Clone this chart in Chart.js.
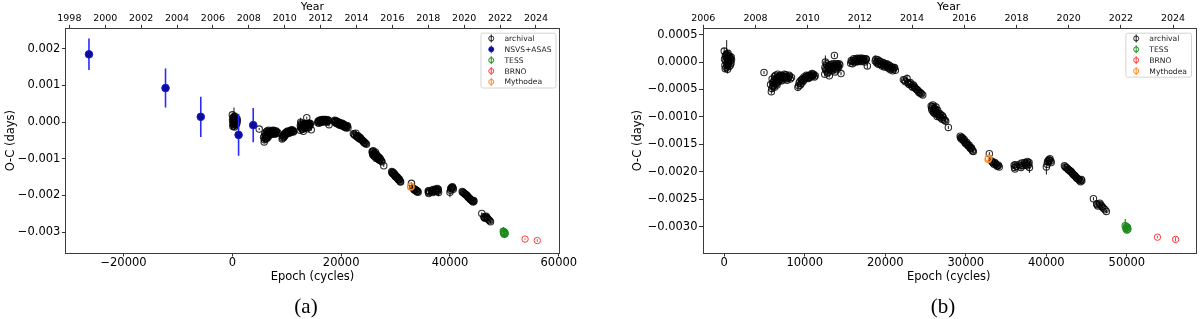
<!DOCTYPE html>
<html><head><meta charset="utf-8">
<script src="https://cdn.jsdelivr.net/npm/chart.js@4.4.1/dist/chart.umd.min.js"></script>
<style>
html,body{margin:0;padding:0;background:#fff;}
#wrap{position:relative;width:1200px;height:319px;overflow:hidden;background:#fff;}
.pane{position:absolute;top:0;width:600px;height:319px;}
.cap{position:absolute;top:306px;font-family:"Liberation Serif","Times New Roman",serif;font-size:21px;color:#000;transform:translate(-50%,-50%);white-space:nowrap;}
</style></head><body>
<div id="wrap">
  <div class="pane" style="left:0"><canvas id="ca" width="600" height="319"></canvas></div>
  <div class="pane" style="left:600px"><canvas id="cb" width="600" height="319"></canvas></div>
  <div class="cap" style="left:306px">(a)</div>
  <div class="cap" style="left:943px">(b)</div>
</div>
<script>
// ---------- tick labels ----------
const yearTicksA = [1998,2000,2002,2004,2006,2008,2010,2012,2014,2016,2018,2020,2022,2024];
const yearTicksB = [2006,2008,2010,2012,2014,2016,2018,2020,2022,2024];
const epochTicksA = [-20000,0,20000,40000,60000];
const epochTicksB = [0,10000,20000,30000,40000,50000];
const ocTicksA = [-0.003,-0.002,-0.001,0,0.001,0.002];
const ocTicksB = [-0.003,-0.0025,-0.002,-0.0015,-0.001,-0.0005,0,0.0005];

// ---------- series ----------
const seriesNames = ['archival','NSVS+ASAS','TESS','BRNO','Mythodea'];

// archival minima (first pass, one line per observing season)
const archEpoch1 = [
  0,40,90,140,190,240,300,350,400,450,500,560,610,660,720,780,840,900,
  4940,
  5750,5850,5950,6050,6150,6250,6350,6450,6550,6650,6750,6850,6950,7050,7150,7300,7450,7600,7750,7900,8050,8200,8350,
  9150,9300,9450,9600,9750,9900,10050,10200,10350,10500,10650,10800,10950,11100,11300,
  12500,12560,12650,12750,12850,12950,13050,13150,13250,13350,13450,13550,13680,13750,13850,13950,14050,14150,14250,14500,
  15700,15850,16000,16150,16300,16450,16600,16750,16900,17050,17200,17350,17500,17650,17770,
  18750,18900,19050,19200,19350,19500,19650,19800,19950,20100,20250,20400,20550,20700,20850,21000,21150,
  22250,22500,22700,22900,23100,23300,23500,23700,23900,24100,24300,24500,24650,
  25700,25800,25900,26000,26100,26200,26300,26400,26500,26650,26800,26950,27100,27300,27500,27830,
  29300,29450,29600,29750,29900,30050,30200,30350,30500,30650,30800,30930,
  32920,
  33200,33400,33600,33800,33950,34150,
  36000,36100,36250,36700,36850,37000,37300,37450,37650,37800,37900,
  40000,40150,40300,40450,40600,
  42250,42450,42650,42850,43050,43250,43450,43650,43850,44050,44250,44400,
  45850,46250,46400,46650,46900,47150,47450
];
const archOC1 = [
  0.00020,0.00005,-0.00006,0.00011,0.00002,-0.00010,0.00015,-0.00001,0.00007,-0.00004,0.00012,0.00003,-0.00008,0.00008,0.00001,0.00006,-0.00002,0.00004,
  -0.00019,
  -0.00041,-0.00054,-0.00031,-0.00045,-0.00036,-0.00026,-0.00040,-0.00029,-0.00034,-0.00022,-0.00036,-0.00027,-0.00031,-0.00024,-0.00034,-0.00028,-0.00022,-0.00031,-0.00026,-0.00030,-0.00024,-0.00031,-0.00028,
  -0.00046,-0.00038,-0.00042,-0.00032,-0.00036,-0.00027,-0.00031,-0.00024,-0.00029,-0.00025,-0.00028,-0.00023,-0.00026,-0.00022,-0.00025,
  -0.00010,0.00000,-0.00016,-0.00006,-0.00020,-0.00011,-0.00025,-0.00005,-0.00015,-0.00008,-0.00012,-0.00003,0.00012,-0.00018,-0.00006,-0.00010,-0.00004,-0.00008,-0.00003,-0.00021,
  -0.00002,0.00001,0.00003,0.00000,0.00005,0.00002,0.00006,0.00003,0.00007,0.00004,0.00002,0.00006,0.00003,0.00005,-0.00007,
  0.00002,-0.00001,0.00004,-0.00003,0.00001,-0.00005,-0.00002,-0.00006,-0.00004,-0.00008,-0.00005,-0.00010,-0.00007,-0.00012,-0.00009,-0.00013,-0.00010,
  -0.00032,-0.00036,-0.00030,-0.00040,-0.00037,-0.00044,-0.00042,-0.00047,-0.00050,-0.00053,-0.00055,-0.00058,-0.00060,
  -0.00080,-0.00088,-0.00078,-0.00092,-0.00084,-0.00090,-0.00082,-0.00095,-0.00088,-0.00098,-0.00094,-0.00102,-0.00098,-0.00105,-0.00108,-0.00119,
  -0.00135,-0.00140,-0.00139,-0.00144,-0.00146,-0.00149,-0.00150,-0.00153,-0.00155,-0.00158,-0.00160,-0.00163,
  -0.00167,
  -0.00180,-0.00184,-0.00183,-0.00187,-0.00189,-0.00191,
  -0.00188,-0.00195,-0.00190,-0.00186,-0.00192,-0.00189,-0.00183,-0.00188,-0.00181,-0.00186,-0.00192,
  -0.00191,-0.00181,-0.00178,-0.00176,-0.00183,
  -0.00189,-0.00192,-0.00195,-0.00197,-0.00199,-0.00203,-0.00206,-0.00209,-0.00212,-0.00214,-0.00218,-0.00216,
  -0.00249,-0.00258,-0.00262,-0.00257,-0.00263,-0.00267,-0.00272
];
const archErr1 = [
  0.00006,0.00008,0.00006,0.00005,0.00010,0.00006,0.00025,0.00007,0.00005,0.00008,0.00005,0.00006,0.00007,0.00005,0.00006,0.00005,0.00004,0.00004,
  0.00003,
  0.00003,0.00004,0.00003,0.00010,0.00003,0.00003,0.00004,0.00003,0.00003,0.00003,0.00004,0.00003,0.00003,0.00003,0.00003,0.00003,0.00003,0.00003,0.00003,0.00003,0.00003,0.00003,0.00003,
  0.00007,0.00003,0.00003,0.00003,0.00003,0.00003,0.00003,0.00006,0.00003,0.00003,0.00003,0.00003,0.00003,0.00003,0.00003,
  0.00003,0.00012,0.00003,0.00003,0.00004,0.00003,0.00003,0.00003,0.00003,0.00003,0.00003,0.00003,0.00003,0.00003,0.00003,0.00003,0.00003,0.00003,0.00003,0.00003,
  0.00003,0.00003,0.00003,0.00003,0.00003,0.00003,0.00003,0.00003,0.00003,0.00003,0.00003,0.00003,0.00003,0.00003,0.00005,
  0.00010,0.00003,0.00003,0.00003,0.00003,0.00003,0.00003,0.00003,0.00003,0.00003,0.00003,0.00003,0.00003,0.00003,0.00003,0.00003,0.00003,
  0.00003,0.00003,0.00007,0.00003,0.00003,0.00003,0.00003,0.00003,0.00003,0.00003,0.00003,0.00003,0.00003,
  0.00003,0.00003,0.00003,0.00003,0.00003,0.00003,0.00008,0.00003,0.00003,0.00003,0.00003,0.00003,0.00003,0.00003,0.00003,0.00003,
  0.00003,0.00003,0.00003,0.00003,0.00003,0.00003,0.00003,0.00003,0.00003,0.00003,0.00003,0.00003,
  0.00003,
  0.00003,0.00003,0.00003,0.00003,0.00003,0.00003,
  0.00005,0.00003,0.00003,0.00003,0.00003,0.00003,0.00003,0.00003,0.00003,0.00003,0.00010,
  0.00014,0.00003,0.00003,0.00003,0.00003,
  0.00003,0.00003,0.00003,0.00003,0.00003,0.00003,0.00003,0.00003,0.00003,0.00003,0.00003,0.00003,
  0.00003,0.00003,0.00003,0.00003,0.00003,0.00003,0.00003
];
// archival minima (second pass, filling the dense parts of each season)
const archEpoch2 = [
  120,260,330,470,530,690,750,860,420,200,
  5900,6000,6100,6200,6300,6400,6500,6600,6700,6800,6900,7000,7100,7200,7350,7500,7650,7800,7950,8100,6250,6550,
  9250,9400,9550,9700,9850,10000,10150,10300,10450,10600,10750,10900,11050,11200,
  12600,12700,12800,12900,13000,13100,13200,13300,13400,13500,13600,13800,13900,14000,14100,14200,14350,12480,
  15780,15930,16080,16230,16380,16530,16680,16830,16980,17130,17280,17430,17580,
  18820,18980,19130,19280,19430,19580,19730,19880,20030,20180,20330,20480,20630,20780,20930,21080,21250,
  22400,22800,23000,23200,23400,23600,23800,24000,24200,24400,
  25750,25850,25950,26050,26150,26250,26350,26450,26600,26750,26900,27050,27200,27400,
  29350,29500,29650,29800,29950,30100,30250,30400,30550,30700,30850,
  33300,33500,33700,33900,34050,
  36050,36150,36800,36950,37350,37550,37700,37850,
  40100,40250,40400,40550,
  42350,42550,42750,42950,43150,43350,43550,43750,43950,44150,44350,
  46300,46550,46800,47000,47300
];
const archOC2 = [
  -0.00012,0.00008,-0.00005,0.00016,-0.00002,0.00010,-0.00006,0.00009,-0.00013,0.00013,
  -0.00048,-0.00038,-0.00043,-0.00033,-0.00037,-0.00024,-0.00039,-0.00030,-0.00028,-0.00033,-0.00025,-0.00030,-0.00026,-0.00032,-0.00025,-0.00027,-0.00023,-0.00033,-0.00028,-0.00026,-0.00046,-0.00042,
  -0.00043,-0.00035,-0.00039,-0.00031,-0.00033,-0.00029,-0.00027,-0.00026,-0.00030,-0.00024,-0.00026,-0.00021,-0.00024,-0.00027,
  -0.00013,-0.00003,-0.00012,-0.00018,-0.00008,-0.00014,-0.00009,-0.00004,-0.00016,-0.00010,-0.00006,-0.00012,-0.00003,-0.00014,-0.00006,-0.00010,-0.00005,-0.00022,
  0.00003,-0.00003,0.00006,0.00003,0.00000,0.00007,0.00001,0.00005,0.00001,0.00007,0.00004,0.00000,0.00006,
  0.00005,0.00001,-0.00004,0.00002,-0.00003,-0.00007,-0.00001,-0.00009,-0.00006,-0.00003,-0.00011,-0.00006,-0.00014,-0.00010,-0.00016,-0.00011,-0.00015,
  -0.00033,-0.00037,-0.00041,-0.00040,-0.00046,-0.00045,-0.00049,-0.00051,-0.00056,-0.00057,
  -0.00084,-0.00081,-0.00090,-0.00087,-0.00094,-0.00086,-0.00091,-0.00099,-0.00093,-0.00100,-0.00097,-0.00104,-0.00101,-0.00106,
  -0.00138,-0.00137,-0.00142,-0.00141,-0.00148,-0.00146,-0.00152,-0.00151,-0.00157,-0.00156,-0.00162,
  -0.00182,-0.00186,-0.00185,-0.00190,-0.00188,
  -0.00192,-0.00187,-0.00189,-0.00184,-0.00186,-0.00184,-0.00189,-0.00183,
  -0.00186,-0.00182,-0.00179,-0.00180,
  -0.00191,-0.00193,-0.00196,-0.00199,-0.00201,-0.00205,-0.00207,-0.00211,-0.00213,-0.00216,-0.00214,
  -0.00260,-0.00259,-0.00261,-0.00265,-0.00269
];
const archErr2 = [
  0.00006,0.00005,0.00007,0.00005,0.00006,0.00005,0.00006,0.00005,0.00008,0.00006,
  0.00003,0.00003,0.00003,0.00003,0.00003,0.00003,0.00003,0.00003,0.00003,0.00003,0.00003,0.00003,0.00003,0.00003,0.00003,0.00003,0.00003,0.00003,0.00003,0.00003,0.00005,0.00004,
  0.00003,0.00003,0.00003,0.00003,0.00003,0.00003,0.00003,0.00003,0.00003,0.00003,0.00003,0.00003,0.00003,0.00003,
  0.00003,0.00003,0.00003,0.00003,0.00003,0.00003,0.00003,0.00003,0.00003,0.00003,0.00003,0.00003,0.00003,0.00003,0.00003,0.00003,0.00003,0.00004,
  0.00003,0.00003,0.00003,0.00003,0.00003,0.00003,0.00003,0.00003,0.00003,0.00003,0.00003,0.00003,0.00003,
  0.00003,0.00003,0.00003,0.00003,0.00003,0.00003,0.00003,0.00003,0.00003,0.00003,0.00003,0.00003,0.00003,0.00003,0.00003,0.00003,0.00003,
  0.00003,0.00003,0.00003,0.00003,0.00003,0.00003,0.00003,0.00003,0.00003,0.00003,
  0.00003,0.00003,0.00003,0.00003,0.00003,0.00003,0.00003,0.00003,0.00003,0.00003,0.00003,0.00003,0.00003,0.00003,
  0.00003,0.00003,0.00003,0.00003,0.00003,0.00003,0.00003,0.00003,0.00003,0.00003,0.00003,
  0.00003,0.00003,0.00003,0.00003,0.00003,
  0.00003,0.00003,0.00003,0.00003,0.00003,0.00003,0.00003,0.00003,
  0.00003,0.00003,0.00003,0.00003,
  0.00003,0.00003,0.00003,0.00003,0.00003,0.00003,0.00003,0.00003,0.00003,0.00003,0.00003,
  0.00003,0.00003,0.00003,0.00003,0.00003
];
const archEpoch = archEpoch1.concat(archEpoch2);
const archOC = archOC1.concat(archOC2);
const archErr = archErr1.concat(archErr2);

const nsvsEpoch = [-26350,-12280,-5800,1150,3840];
const nsvsOC    = [0.00185,0.00093,0.000145,-0.000348,-0.000082];
const nsvsErr   = [0.00043,0.00053,0.00055,0.00057,0.00047];

const tessEpoch = [49800,49880,49950,50000,50060,50120];
const tessOC    = [-0.00298,-0.00303,-0.00300,-0.00306,-0.00301,-0.00304];
const tessErr   = [0.00012,0.00005,0.00004,0.00006,0.00004,0.00005];

const brnoEpoch = [53800,56050];
const brnoOC    = [-0.00319,-0.00323];
const brnoErr   = [0.00002,0.00004];

const mythEpoch = [32780,32830];
const mythOC    = [-0.00177,-0.00175];
const mythErr   = [0.00003,0.00003];

// ---------- helpers ----------
const FONT = 'DejaVu Sans';
const pts = (xs, ys) => xs.map((x,i)=>({x:x, y:ys[i]}));
const minus = s => s.replace('-', '\u2212');
const fmtInt = v => minus(String(Math.round(v)));
const fmtDec = d => v => minus(Number(v).toFixed(d));

function series(name, xs, ys, es, style){
  return Object.assign({
    label:name, data:pts(xs,ys), errs:es,
    showLine:false, pointStyle:'circle',
    pointHoverRadius:0
  }, style);
}
const styles = {
  'archival':  {pointRadius:3.2, borderWidth:1.1, borderColor:'rgba(0,0,0,0.82)', backgroundColor:'rgba(255,255,255,0)', errColor:'rgba(0,0,0,0.9)', errWidth:1, order:5, filled:false},
  'NSVS+ASAS': {pointRadius:3.8, borderWidth:1, borderColor:'#1a1ad0', backgroundColor:'#0c0c9c', errColor:'#2a2aff', errWidth:1.6, order:4, filled:true},
  'TESS':      {pointRadius:3.2, borderWidth:1.1, borderColor:'#1b8a1b', backgroundColor:'rgba(255,255,255,0)', errColor:'#1b8a1b', errWidth:1.2, order:3, filled:false},
  'BRNO':      {pointRadius:3.2, borderWidth:1, borderColor:'#ff3a3a', backgroundColor:'rgba(255,255,255,0)', errColor:'#ff3a3a', errWidth:1, order:2, filled:false},
  'Mythodea':  {pointRadius:3.2, borderWidth:1.1, borderColor:'#ff8a1c', backgroundColor:'rgba(255,255,255,0)', errColor:'#ff8a1c', errWidth:1, order:1, filled:false}
};

const errorBarPlugin = {
  id:'errbars',
  beforeDatasetDraw(chart, args){
    const ds = chart.data.datasets[args.index];
    if(!ds.errs) return;
    const xs = chart.scales.x, ys = chart.scales.y, ctx = chart.ctx, ca = chart.chartArea;
    ctx.save();
    ctx.beginPath(); ctx.rect(ca.left, ca.top, ca.right-ca.left, ca.bottom-ca.top); ctx.clip();
    ctx.strokeStyle = ds.errColor; ctx.lineWidth = ds.errWidth;
    ds.data.forEach((p,i)=>{
      const e = ds.errs[i] || 0;
      const px = xs.getPixelForValue(p.x);
      ctx.beginPath();
      ctx.moveTo(px, ys.getPixelForValue(p.y - e));
      ctx.lineTo(px, ys.getPixelForValue(p.y + e));
      ctx.stroke();
    });
    ctx.restore();
  }
};

const framePlugin = {
  id:'frame',
  afterDatasetsDraw(chart){
    const ca = chart.chartArea, ctx = chart.ctx;
    ctx.save();
    ctx.strokeStyle = '#3c3c3c'; ctx.lineWidth = 1;
    ctx.strokeRect(Math.round(ca.left)+0.5, Math.round(ca.top)+0.5, Math.round(ca.right-ca.left), Math.round(ca.bottom-ca.top));
    ctx.restore();
  }
};

const boxLegendPlugin = {
  id:'boxLegend',
  afterDraw(chart){
    const ctx = chart.ctx, ca = chart.chartArea;
    const items = chart.data.datasets;
    ctx.save();
    ctx.font = '7.6px "' + FONT + '"';
    let tw = 0;
    items.forEach(d => { tw = Math.max(tw, ctx.measureText(d.label).width); });
    const rowH = 10.85;
    const w = 24 + tw + 4;
    const h = 11.4 + (items.length-1)*rowH;
    const right = ca.right - 4;
    const left = right - w;
    const top = ca.top + 4.4;
    ctx.fillStyle = 'rgba(255,255,255,0.85)';
    ctx.strokeStyle = '#d4d4d4';
    ctx.lineWidth = 1;
    ctx.beginPath();
    if (ctx.roundRect) ctx.roundRect(left+0.5, top+0.5, w, h, 2); else ctx.rect(left+0.5, top+0.5, w, h);
    ctx.fill(); ctx.stroke();
    items.forEach((d,i) => {
      const cy = top + 5.8 + i*rowH;
      const mx = left + 10.8;
      ctx.strokeStyle = d.errColor; ctx.lineWidth = 1;
      ctx.beginPath(); ctx.moveTo(mx, cy-4); ctx.lineTo(mx, cy+4); ctx.stroke();
      ctx.beginPath(); ctx.arc(mx, cy, 2.5, 0, Math.PI*2);
      if (d.filled) { ctx.fillStyle = d.backgroundColor; ctx.fill(); }
      ctx.strokeStyle = d.borderColor; ctx.stroke();
      ctx.fillStyle = '#1a1a1a';
      ctx.textAlign = 'left'; ctx.textBaseline = 'middle';
      ctx.fillText(d.label, left + 24, cy + 0.5);
    });
    ctx.restore();
  }
};

function makeChart(id, cfg){
  const datasets = cfg.series.map(s => series(s.name, s.x, s.y, s.e, styles[s.name]));
  const tickFont = {family:FONT, size:11.5};
  const titleFont = {family:FONT, size:11.5};
  const gridOpt = {display:true, drawOnChartArea:false, drawTicks:true, tickLength:3.5, color:'#333', lineWidth:1};
  return new Chart(document.getElementById(id), {
    type:'scatter',
    data:{datasets},
    plugins:[errorBarPlugin, framePlugin, boxLegendPlugin],
    options:{
      responsive:false, animation:false, devicePixelRatio:1,
      layout:{padding:cfg.pad},
      plugins:{legend:{display:false}, tooltip:{enabled:false}},
      events:[],
      scales:{
        x:{
          type:'linear', position:'bottom', min:cfg.xMin, max:cfg.xMax,
          afterBuildTicks: s => { s.ticks = cfg.xTicks.map(v => ({value:v})); },
          afterFit: s => { s.height = 32; },
          grid:gridOpt, border:{display:false},
          ticks:{font:tickFont, color:'#000', padding:0, maxRotation:0, autoSkip:false, callback:fmtInt},
          title:{display:true, text:'Epoch (cycles)', font:titleFont, color:'#000', padding:{top:0, bottom:1.4}}
        },
        xTop:{
          type:'linear', position:'top', axis:'x', min:cfg.yrMin, max:cfg.yrMax,
          afterBuildTicks: s => { s.ticks = cfg.yrTicks.map(v => ({value:v})); },
          afterFit: s => { s.height = 28.3; },
          grid:gridOpt, border:{display:false},
          ticks:{font:{family:FONT, size:9.5}, color:'#000', padding:0.8, maxRotation:0, autoSkip:false, callback:v => String(v)},
          title:{display:true, text:'Year', font:{family:FONT, size:11}, color:'#000', padding:{top:0.6, bottom:0}}
        },
        y:{
          type:'linear', position:'left', min:cfg.yMin, max:cfg.yMax,
          afterBuildTicks: s => { s.ticks = cfg.yTicks.map(v => ({value:v})); },
          afterFit: s => { s.width = cfg.yWidth; },
          grid:gridOpt, border:{display:false},
          ticks:{font:tickFont, color:'#000', padding:1.5, autoSkip:false, callback:fmtDec(cfg.dec)},
          title:{display:true, text:'O-C (days)', font:titleFont, color:'#000', padding:{top:4.6, bottom:0}}
        }
      }
    }
  });
}

makeChart('ca', {
  series:[
    {name:'archival', x:archEpoch, y:archOC, e:archErr},
    {name:'NSVS+ASAS', x:nsvsEpoch, y:nsvsOC, e:nsvsErr},
    {name:'TESS', x:tessEpoch, y:tessOC, e:tessErr},
    {name:'BRNO', x:brnoEpoch, y:brnoOC, e:brnoErr},
    {name:'Mythodea', x:mythEpoch, y:mythOC, e:mythErr}
  ],
  pad:{left:0, right:40.5, top:0, bottom:34},
  yWidth:65.4,
  xMin:-30680, xMax:60130, xTicks:epochTicksA,
  yMin:-0.00357, yMax:0.00256, yTicks:ocTicksA, dec:3,
  yrMin:1997.78, yrMax:2025.31, yrTicks:yearTicksA
});

makeChart('cb', {
  series:[
    {name:'archival', x:archEpoch, y:archOC, e:archErr},
    {name:'TESS', x:tessEpoch, y:tessOC, e:tessErr},
    {name:'BRNO', x:brnoEpoch, y:brnoOC, e:brnoErr},
    {name:'Mythodea', x:mythEpoch, y:mythOC, e:mythErr}
  ],
  pad:{left:27, right:5, top:0, bottom:34},
  yWidth:75.5,
  xMin:-2700, xMax:58460, xTicks:epochTicksB,
  yMin:-0.003478, yMax:0.000615, yTicks:ocTicksB, dec:4,
  yrMin:2005.97, yrMax:2024.84, yrTicks:yearTicksB
});
</script>
</body></html>
